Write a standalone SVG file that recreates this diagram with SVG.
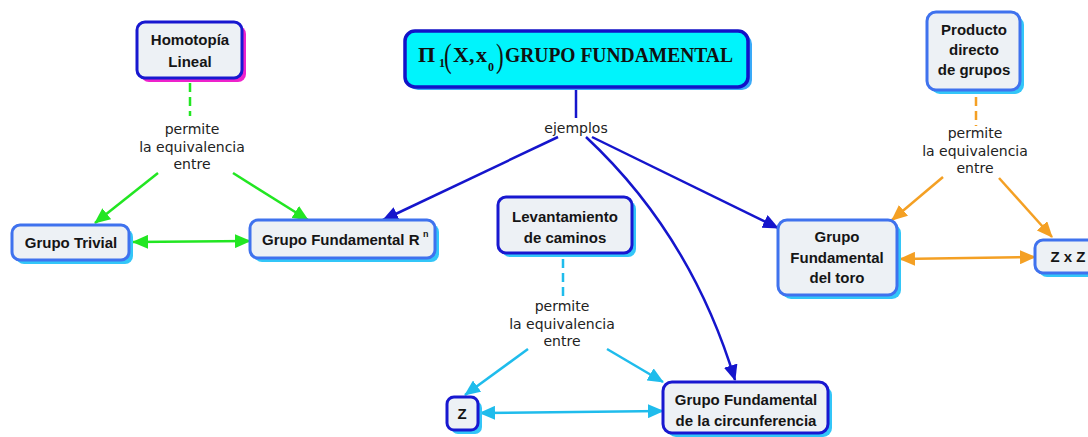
<svg xmlns="http://www.w3.org/2000/svg" width="1088" height="437" viewBox="0 0 1088 437">
<style>
.sh{fill:#33c6f8;}
.shm{fill:#ee22cc;}
.bx{fill:#edf1f5;stroke-width:3;}
.dk{stroke:#1818d0;}
.lt{stroke:#3f72ee;}
.nt{font-family:"Liberation Sans",Arial,sans-serif;font-weight:bold;font-size:15px;fill:#151515;text-anchor:middle;}
.lb{font-family:"DejaVu Sans",Verdana,sans-serif;font-size:14px;fill:#222;text-anchor:middle;}
.e{fill:none;stroke-width:2.5;}
.bl{stroke:#1515cc;}
.gr{stroke:#22e622;}
.or{stroke:#f4a024;}
.cy{stroke:#1fbcec;}
.ti{font-family:"Liberation Serif","Times New Roman",serif;font-weight:bold;fill:#111;}
</style>
<defs>
<marker id="mb" markerUnits="userSpaceOnUse" markerWidth="16" markerHeight="14" refX="15" refY="7" orient="auto-start-reverse"><path d="M0,0 L16,7 L0,14 Z" fill="#1515cc"/></marker>
<marker id="mg" markerUnits="userSpaceOnUse" markerWidth="16" markerHeight="14" refX="15" refY="7" orient="auto-start-reverse"><path d="M0,0 L16,7 L0,14 Z" fill="#22e622"/></marker>
<marker id="mo" markerUnits="userSpaceOnUse" markerWidth="16" markerHeight="14" refX="15" refY="7" orient="auto-start-reverse"><path d="M0,0 L16,7 L0,14 Z" fill="#f4a024"/></marker>
<marker id="mc" markerUnits="userSpaceOnUse" markerWidth="16" markerHeight="14" refX="15" refY="7" orient="auto-start-reverse"><path d="M0,0 L16,7 L0,14 Z" fill="#1fbcec"/></marker>
</defs>
<rect width="1088" height="437" fill="#ffffff"/>

<g id="connectors">
<path class="e bl" d="M576,89 L576,118"/>
<path class="e bl" d="M558,137 L383,220" marker-end="url(#mb)"/>
<path class="e bl" d="M592,137 L778,228" marker-end="url(#mb)"/>
<path class="e bl" d="M586,137 Q691,235 735,380" marker-end="url(#mb)"/>

<path class="e gr" d="M190,83 L190,116" stroke-dasharray="9,5"/>
<path class="e gr" d="M158,173 L95,223" marker-end="url(#mg)"/>
<path class="e gr" d="M233,173 L308,220" marker-end="url(#mg)"/>
<path class="e gr" d="M133,242 L250,241" marker-start="url(#mg)" marker-end="url(#mg)"/>

<path class="e or" d="M976,97 L976,126" stroke-dasharray="9,5"/>
<path class="e or" d="M943,177 L892,220" marker-end="url(#mo)"/>
<path class="e or" d="M999,178 L1052,237" marker-end="url(#mo)"/>
<path class="e or" d="M900,259 L1035,257" marker-start="url(#mo)" marker-end="url(#mo)"/>

<path class="e cy" d="M563,259 L563,297" stroke-dasharray="9,5"/>
<path class="e cy" d="M528,349 L465,395" marker-end="url(#mc)"/>
<path class="e cy" d="M607,349 L663,382" marker-end="url(#mc)"/>
<path class="e cy" d="M480,413 L663,411" marker-start="url(#mc)" marker-end="url(#mc)"/>

<text class="lb" x="576" y="133">ejemplos</text>
<text class="lb" x="192" y="134">permite</text>
<text class="lb" x="192" y="152">la equivalencia</text>
<text class="lb" x="192" y="169">entre</text>
<text class="lb" x="975" y="138">permite</text>
<text class="lb" x="975" y="156">la equivalencia</text>
<text class="lb" x="975" y="173">entre</text>
<text class="lb" x="562" y="311">permite</text>
<text class="lb" x="562" y="329">la equivalencia</text>
<text class="lb" x="562" y="346">entre</text>
</g>

<g id="main">
<rect x="408" y="34" width="344" height="56" rx="10" fill="#3aaaf8"/>
<rect x="405" y="31" width="343" height="56" rx="10" fill="#00f4fc" stroke="#1212c8" stroke-width="3.5"/>
<text class="ti" x="418" y="62" style="font-size:22px">Π</text>
<text class="ti" x="439" y="67" style="font-size:12px">1</text>
<text class="ti" transform="translate(444,67) scale(1,1.45)" style="font-size:23px;font-weight:normal">(</text>
<text class="ti" x="453" y="62" style="font-size:22px">X</text>
<text class="ti" x="469" y="62" style="font-size:22px">,</text>
<text class="ti" x="476" y="62" style="font-size:22px">x</text>
<text class="ti" x="488" y="71" style="font-size:12px">0</text>
<text class="ti" transform="translate(496,67) scale(1,1.45)" style="font-size:23px;font-weight:normal">)</text>
<text class="ti" x="505" y="62" style="font-size:22px" textLength="228" lengthAdjust="spacingAndGlyphs">GRUPO FUNDAMENTAL</text>
</g>

<g id="homotopia">
<rect class="shm" x="141" y="26" width="105" height="56" rx="8"/>
<rect class="bx dk" x="137" y="22" width="105" height="56" rx="8"/>
<text class="nt" x="190" y="45">Homotopía</text>
<text class="nt" x="190" y="67">Lineal</text>
</g>

<g id="trivial">
<rect class="sh" x="16" y="229" width="117" height="35" rx="8"/>
<rect class="bx lt" x="12" y="225" width="117" height="35" rx="8"/>
<text class="nt" x="71" y="248">Grupo Trivial</text>
</g>

<g id="rn">
<rect class="sh" x="254" y="224" width="185" height="38" rx="8"/>
<rect class="bx lt" x="250" y="220" width="185" height="38" rx="8"/>
<text class="nt" x="262" y="245" style="text-anchor:start">Grupo Fundamental R</text>
<text class="nt" x="423" y="237" style="text-anchor:start;font-size:9px">n</text>
</g>

<g id="producto">
<rect class="sh" x="931" y="16" width="93" height="78" rx="9"/>
<rect class="bx lt" x="927" y="12" width="93" height="78" rx="9"/>
<text class="nt" x="974" y="35">Producto</text>
<text class="nt" x="974" y="55">directo</text>
<text class="nt" x="974" y="75">de grupos</text>
</g>

<g id="toro">
<rect class="sh" x="782" y="224" width="119" height="75" rx="9"/>
<rect class="bx lt" x="778" y="220" width="119" height="75" rx="9"/>
<text class="nt" x="837" y="242">Grupo</text>
<text class="nt" x="837" y="263">Fundamental</text>
<text class="nt" x="837" y="283">del toro</text>
</g>

<g id="zxz">
<rect class="sh" x="1039" y="244" width="70" height="33" rx="8"/>
<rect class="bx lt" x="1035" y="240" width="70" height="33" rx="8"/>
<text class="nt" x="1068" y="262">Z x Z</text>
</g>

<g id="levantamiento">
<rect class="sh" x="502" y="201" width="134" height="56" rx="8"/>
<rect class="bx dk" x="498" y="197" width="134" height="56" rx="8"/>
<text class="nt" x="565" y="222">Levantamiento</text>
<text class="nt" x="565" y="243">de caminos</text>
</g>

<g id="z">
<rect class="sh" x="451" y="401" width="31" height="33" rx="7"/>
<rect class="bx dk" x="447" y="397" width="31" height="33" rx="7"/>
<text class="nt" x="462" y="419">Z</text>
</g>

<g id="circunferencia">
<rect class="sh" x="667" y="386" width="165" height="51" rx="9"/>
<rect class="bx dk" x="663" y="382" width="165" height="51" rx="9"/>
<text class="nt" x="746" y="405">Grupo Fundamental</text>
<text class="nt" x="746" y="426">de la circunferencia</text>
</g>
</svg>
